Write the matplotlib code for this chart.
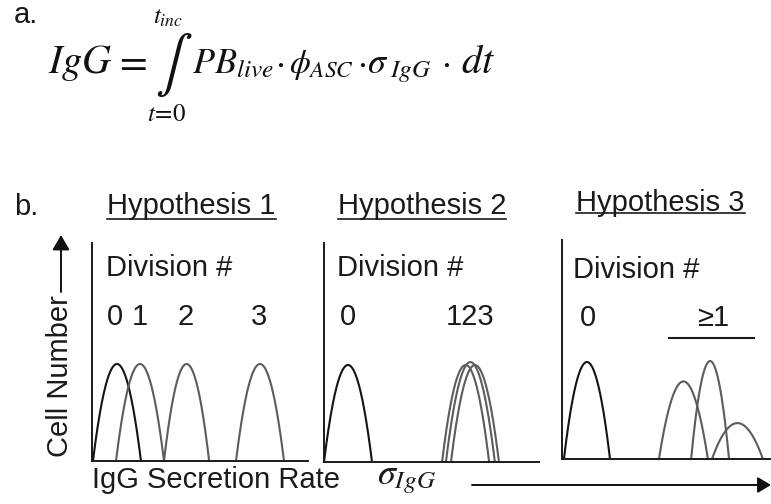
import numpy as np
import matplotlib
matplotlib.use("Agg")
import matplotlib.pyplot as plt
from matplotlib.lines import Line2D
from matplotlib.patches import FancyArrowPatch

plt.rcParams['font.family'] = ['Liberation Sans', 'DejaVu Sans']
plt.rcParams['mathtext.fontset'] = 'stix'

W, H = 771, 504

# ---- data: peaks per hypothesis (center, half-width, height, colour-group) ----
titles = ["Hypothesis 1", "Hypothesis 2", "Hypothesis 3"]

h1_centers = [1.04, 2.0, 3.94, 7.0]
h1_halfw = [1.0, 1.0, 0.94, 1.0]
h1_heights = [1.0, 1.0, 1.0, 1.0]
h1_dark = [True, False, False, False]
h1_labels = ["0", "1", "2", "3"]
h1_label_x = [0.96, 2.0, 3.92, 6.96]

h2_centers = [1.0, 5.90, 6.10, 6.29]
h2_halfw = [1.0, 0.98, 1.02, 1.0]
h2_heights = [1.0, 1.0, 1.03, 1.0]
h2_dark = [True, False, False, False]
h2_labels = ["0", "123"]
h2_label_x = [1.0, 6.1]

h3_centers = [1.04, 5.06, 6.17, 7.31]
h3_halfw = [0.96, 1.02, 0.79, 1.06]
h3_heights = [1.0, 0.80, 1.01, 0.37]
h3_dark = [True, False, False, False]
h3_labels = ["0", "\u22651"]
h3_label_x = [1.08, 6.29]
h3_bar = [4.46, 8.0]

fig = plt.figure(figsize=(W / 100, H / 100), dpi=100)

def fx(x):
    return x / W

def fy(y):
    return 1 - y / H

# panel rectangles in pixels: left, right, top, bottom
rects = [(92, 308, 243, 461), (324, 539, 243, 462), (562, 771, 240, 459)]
UX = 24.0  # px per x unit
UY = 97.0  # px per y unit

DARK = '#141414'
GRAY = '#5c5c5c'
FS = 21

panels = [
    (h1_centers, h1_halfw, h1_heights, h1_dark, h1_labels, h1_label_x),
    (h2_centers, h2_halfw, h2_heights, h2_dark, h2_labels, h2_label_x),
    (h3_centers, h3_halfw, h3_heights, h3_dark, h3_labels, h3_label_x),
]
div_y = [268, 268, 270]
dig_y = [317, 317, 318]
div_x = [106, 337, 573]

for i, ((l, r, t, b), (cs, hws, hs, dk, labs, labx)) in enumerate(zip(rects, panels)):
    ax = fig.add_axes([fx(l), fy(b), (r - l) / W, (b - t) / H])
    ax.set_xlim(0, (r - l) / UX)
    ax.set_ylim(0, (b - t) / UY)
    for s in ['top', 'right']:
        ax.spines[s].set_visible(False)
    for s in ['left', 'bottom']:
        ax.spines[s].set_linewidth(1.4)
        ax.spines[s].set_color('#1a1a1a')
    ax.set_xticks([])
    ax.set_yticks([])
    ax.patch.set_alpha(0)
    for c, hw, h, d in zip(cs, hws, hs, dk):
        xx = np.linspace(c - hw, c + hw, 200)
        yy = h * (1 - ((xx - c) / hw) ** 2)
        ax.plot(xx, yy, color=DARK if d else GRAY, lw=1.5, clip_on=False,
                solid_capstyle='butt')
    ax.text((div_x[i] - l) / UX, (b - div_y[i]) / UY, "Division #", fontsize=FS,
            ha='left', va='center', color='#1a1a1a')
    for lab, x in zip(labs, labx):
        ax.text(x, (b - dig_y[i]) / UY, lab, fontsize=FS, ha='center', va='center',
                color='#1a1a1a')
    if i == 2:
        ax.plot(h3_bar, [(b - 338) / UY] * 2, color='#1a1a1a', lw=1.5, clip_on=False)

# titles with underline
title_pos = [(191.5, 206, 219), (422, 206, 219), (660.5, 203, 213)]
title_texts = []
for ttl, (cx, cy, uy) in zip(titles, title_pos):
    title_texts.append(fig.text(fx(cx), fy(cy), ttl, fontsize=FS, ha='center', va='center',
                                color='#1a1a1a'))
fig.canvas.draw()
rend = fig.canvas.get_renderer()
for (cx, cy, uy), txt in zip(title_pos, title_texts):
    bb = txt.get_window_extent(rend)
    fig.add_artist(Line2D([bb.x0 / W, bb.x1 / W], [fy(uy), fy(uy)], color='#1a1a1a', lw=1.2,
                          transform=fig.transFigure))

# panel letters
fig.text(fx(14), fy(15), "a.", fontsize=FS, ha='left', va='center', color='#1a1a1a')
fig.text(fx(14), fy(207), "b.", fontsize=FS, ha='left', va='center', color='#1a1a1a')

# axis labels
fig.text(fx(60), fy(376), "Cell Number", fontsize=FS, rotation=90, ha='center', va='center',
         color='#1a1a1a')
fig.add_artist(FancyArrowPatch((fx(61), fy(292)), (fx(61), fy(235)),
               transform=fig.transFigure, arrowstyle='-|>,head_length=4.5,head_width=2.6',
               color='#111111', lw=1.4, mutation_scale=2, shrinkA=0, shrinkB=0))
fig.text(fx(92), fy(480), "IgG Secretion Rate", fontsize=FS, ha='left', va='center',
         color='#1a1a1a')
fig.text(fx(377), fy(478), r"$\sigma_{IgG}$", fontsize=26, ha='left', va='center',
         color='#1a1a1a')
fig.add_artist(FancyArrowPatch((fx(472), fy(485)), (fx(771), fy(485)),
               transform=fig.transFigure, arrowstyle='-|>,head_length=4,head_width=2.4',
               color='#111111', lw=1.4, mutation_scale=2, shrinkA=0, shrinkB=0))

# equation, placed piece by piece
EQ = 29
C = '#111111'
BASE = fy(73)
fig.text(fx(48), BASE, r"$IgG$", fontsize=EQ, ha='left', va='baseline', color=C)
fig.text(fx(131), BASE, r"$=$", fontsize=EQ, ha='center', va='baseline', color=C)
fig.text(fx(174), fy(65), r"$\int$", fontsize=40, ha='center', va='center', color=C)
fig.text(fx(192), BASE, r"$PB_{live}$", fontsize=26, ha='left', va='baseline', color=C)
fig.text(fx(280), BASE, r"$\cdot$", fontsize=25, ha='center', va='baseline', color=C)
fig.text(fx(289), BASE, r"$\phi_{ASC}$", fontsize=24, ha='left', va='baseline', color=C)
fig.text(fx(362), BASE, r"$\cdot$", fontsize=25, ha='center', va='baseline', color=C)
fig.text(fx(367), BASE, r"$\sigma_{\;IgG}$", fontsize=26, ha='left', va='baseline', color=C)
fig.text(fx(446), BASE, r"$\cdot$", fontsize=25, ha='center', va='baseline', color=C)
fig.text(fx(461), BASE, r"$dt$", fontsize=EQ, ha='left', va='baseline', color=C)
fig.text(fx(168), fy(17), r"$t_{inc}$", fontsize=18, ha='center', va='center', color=C)
fig.text(fx(167), fy(114), r"$t\!=\!0$", fontsize=18, ha='center', va='center', color=C)

fig.savefig("out.png", dpi=100)
